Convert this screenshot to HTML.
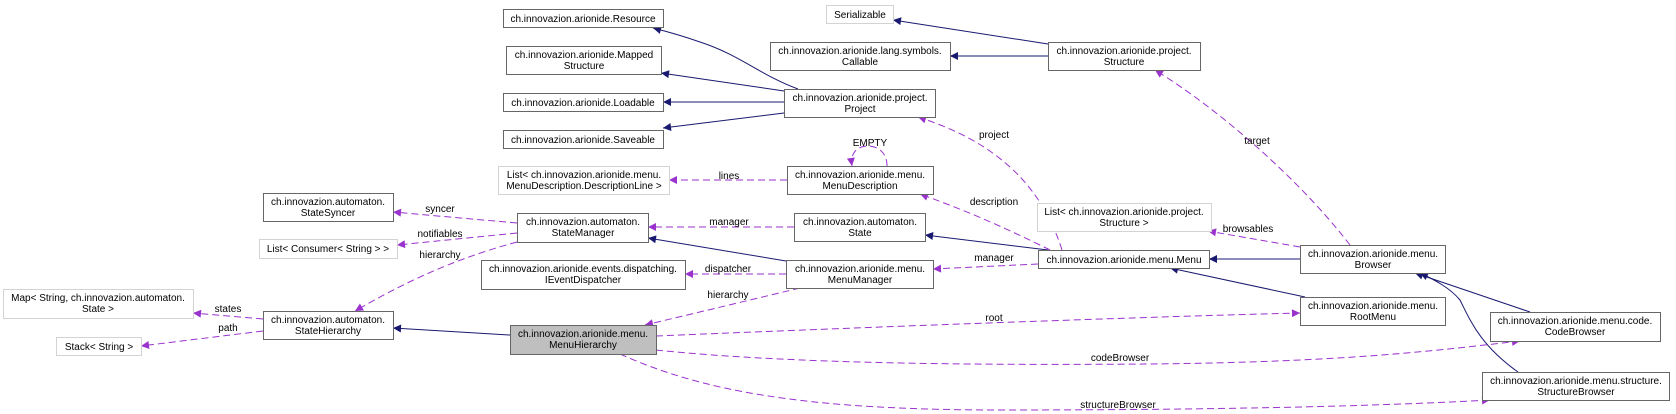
<!DOCTYPE html>
<html><head><meta charset="utf-8"><style>
html,body{margin:0;padding:0;background:#fff;width:1676px;height:414px;overflow:hidden}
text{font-family:"Liberation Sans",Arial,sans-serif;font-size:10px;fill:#000}
</style></head><body>
<svg width="1676" height="414" viewBox="0 0 1676 414" xmlns="http://www.w3.org/2000/svg">
<defs>
<marker id="n" viewBox="0 0 10 10" refX="10" refY="5" markerWidth="10" markerHeight="8" orient="auto" markerUnits="userSpaceOnUse"><path d="M0,0L10,5L0,10z" fill="#191970"/></marker>
<marker id="p" viewBox="0 0 10 10" refX="10" refY="5" markerWidth="10" markerHeight="8" orient="auto" markerUnits="userSpaceOnUse"><path d="M0,0L10,5L0,10z" fill="#9a32cd"/></marker>
</defs>
<g fill="none" stroke="#191970" stroke-width="1" marker-end="url(#n)">
<path d="M798,89 C760,75 740,55 700,42 C680,35 665,31 653,28"/>
<path d="M784,91 L661,73"/>
<path d="M784,102 L663,102"/>
<path d="M784,113 L663,128"/>
<path d="M1048,44 L893,20"/>
<path d="M1048,56 L950,56" stroke="#7b7bb0" stroke-width="1.8"/>
<path d="M786,261 L648,238"/>
<path d="M1048,250 L925,235"/>
<path d="M1300,259 L1209,259" stroke="#7b7bb0" stroke-width="1.8"/>
<path d="M1305,297 L1170,268"/>
<path d="M1530,312 L1415,273"/>
<path d="M1518,372 C1480,345 1470,320 1460,300 C1450,288 1435,280 1420,273"/>
<path d="M510,335 L393,328"/>
</g>
<g fill="none" stroke="#9a32cd" stroke-width="1" stroke-dasharray="7,4" marker-end="url(#p)">
<path d="M517,223 L393,212"/>
<path d="M517,233 L397,245"/>
<path d="M517,242 C450,260 400,285 355,311"/>
<path d="M263,319 L193,313"/>
<path d="M263,331 L141,346"/>
<path d="M787,180 L669,180"/>
<path d="M887,166 C887,150 875,146 868,146 C858,146 850,152 852,166"/>
<path d="M794,227 L648,227"/>
<path d="M786,274 L685,274"/>
<path d="M800,288 C750,300 700,312 645,325"/>
<path d="M1038,264 L933,269"/>
<path d="M1050,250 C1010,230 970,212 920,194"/>
<path d="M1062,250 C1040,180 990,140 918,117"/>
<path d="M1300,247 L1208,231"/>
<path d="M1350,245 C1300,180 1220,110 1155,70"/>
<path d="M656,336 C800,330 1100,318 1300,313"/>
<path d="M656,350 C800,365 1000,365 1150,364 C1350,362 1440,350 1520,341"/>
<path d="M620,354 C700,390 800,410 1000,410 C1250,410 1400,405 1490,400"/>
</g>
<g fill="#fff" stroke="#666" stroke-width="1">
<rect x="503.5" y="9.5" width="160" height="18"/>
<rect x="506.5" y="46.5" width="155" height="28"/>
<rect x="503.5" y="93.5" width="160" height="18"/>
<rect x="503.5" y="130.5" width="160" height="18"/>
<rect x="770.5" y="42.5" width="180" height="28"/>
<rect x="1048.5" y="42.5" width="152" height="28"/>
<rect x="784.5" y="89.5" width="151" height="28"/>
<rect x="787.5" y="166.5" width="146" height="28"/>
<rect x="263.5" y="193.5" width="130" height="28"/>
<rect x="517.5" y="213.5" width="131" height="29"/>
<rect x="481.5" y="260.5" width="204" height="29"/>
<rect x="263.5" y="311.5" width="130" height="28"/>
<rect x="510.5" y="325.5" width="146" height="29" fill="#bfbfbf"/>
<rect x="794.5" y="213.5" width="131" height="28"/>
<rect x="786.5" y="260.5" width="147" height="28"/>
<rect x="1038.5" y="250.5" width="171" height="18"/>
<rect x="1300.5" y="245.5" width="145" height="28"/>
<rect x="1300.5" y="297.5" width="145" height="28"/>
<rect x="1490.5" y="312.5" width="170" height="29"/>
<rect x="1482.5" y="372.5" width="187" height="28"/>
</g>
<g fill="#fff" stroke="#d3d3d3" stroke-width="1">
<rect x="826.5" y="5.5" width="67" height="18"/>
<rect x="498.5" y="166.5" width="171" height="28"/>
<rect x="259.5" y="239.5" width="138" height="19"/>
<rect x="3.5" y="289.5" width="190" height="29"/>
<rect x="56.5" y="337.5" width="85" height="18"/>
<rect x="1037.5" y="203.5" width="174" height="28"/>
</g>
<g text-anchor="middle">
<text x="583" y="22">ch.innovazion.arionide.Resource</text>
<text x="584" y="58">ch.innovazion.arionide.Mapped</text><text x="584" y="69">Structure</text>
<text x="583" y="106">ch.innovazion.arionide.Loadable</text>
<text x="583" y="143">ch.innovazion.arionide.Saveable</text>
<text x="860" y="18">Serializable</text>
<text x="860" y="54">ch.innovazion.arionide.lang.symbols.</text><text x="860" y="65">Callable</text>
<text x="1124" y="54">ch.innovazion.arionide.project.</text><text x="1124" y="65">Structure</text>
<text x="860" y="101">ch.innovazion.arionide.project.</text><text x="860" y="112">Project</text>
<text x="860" y="178">ch.innovazion.arionide.menu.</text><text x="860" y="189">MenuDescription</text>
<text x="584" y="178">List&lt; ch.innovazion.arionide.menu.</text><text x="584" y="189">MenuDescription.DescriptionLine &gt;</text>
<text x="328" y="205">ch.innovazion.automaton.</text><text x="328" y="216">StateSyncer</text>
<text x="583" y="225">ch.innovazion.automaton.</text><text x="583" y="236">StateManager</text>
<text x="328" y="252">List&lt; Consumer&lt; String &gt; &gt;</text>
<text x="583" y="272">ch.innovazion.arionide.events.dispatching.</text><text x="583" y="283">IEventDispatcher</text>
<text x="98" y="301">Map&lt; String, ch.innovazion.automaton.</text><text x="98" y="312">State &gt;</text>
<text x="99" y="350">Stack&lt; String &gt;</text>
<text x="328" y="323">ch.innovazion.automaton.</text><text x="328" y="334">StateHierarchy</text>
<text x="583" y="337">ch.innovazion.arionide.menu.</text><text x="583" y="348">MenuHierarchy</text>
<text x="860" y="225">ch.innovazion.automaton.</text><text x="860" y="236">State</text>
<text x="860" y="272">ch.innovazion.arionide.menu.</text><text x="860" y="283">MenuManager</text>
<text x="1124" y="263">ch.innovazion.arionide.menu.Menu</text>
<text x="1124" y="215">List&lt; ch.innovazion.arionide.project.</text><text x="1124" y="226">Structure &gt;</text>
<text x="1373" y="257">ch.innovazion.arionide.menu.</text><text x="1373" y="268">Browser</text>
<text x="1373" y="309">ch.innovazion.arionide.menu.</text><text x="1373" y="320">RootMenu</text>
<text x="1575" y="324">ch.innovazion.arionide.menu.code.</text><text x="1575" y="335">CodeBrowser</text>
<text x="1576" y="384">ch.innovazion.arionide.menu.structure.</text><text x="1576" y="395">StructureBrowser</text>
<text x="440" y="212">syncer</text>
<text x="440" y="237">notifiables</text>
<text x="440" y="258">hierarchy</text>
<text x="228" y="312">states</text>
<text x="228" y="331">path</text>
<text x="729" y="179">lines</text>
<text x="870" y="146">EMPTY</text>
<text x="729" y="225">manager</text>
<text x="728" y="272">dispatcher</text>
<text x="728" y="298">hierarchy</text>
<text x="994" y="205">description</text>
<text x="994" y="138">project</text>
<text x="1257" y="144">target</text>
<text x="1248" y="232">browsables</text>
<text x="994" y="261">manager</text>
<text x="994" y="321">root</text>
<text x="1120" y="361">codeBrowser</text>
<text x="1118" y="408">structureBrowser</text>
</g>
</svg>
</body></html>
